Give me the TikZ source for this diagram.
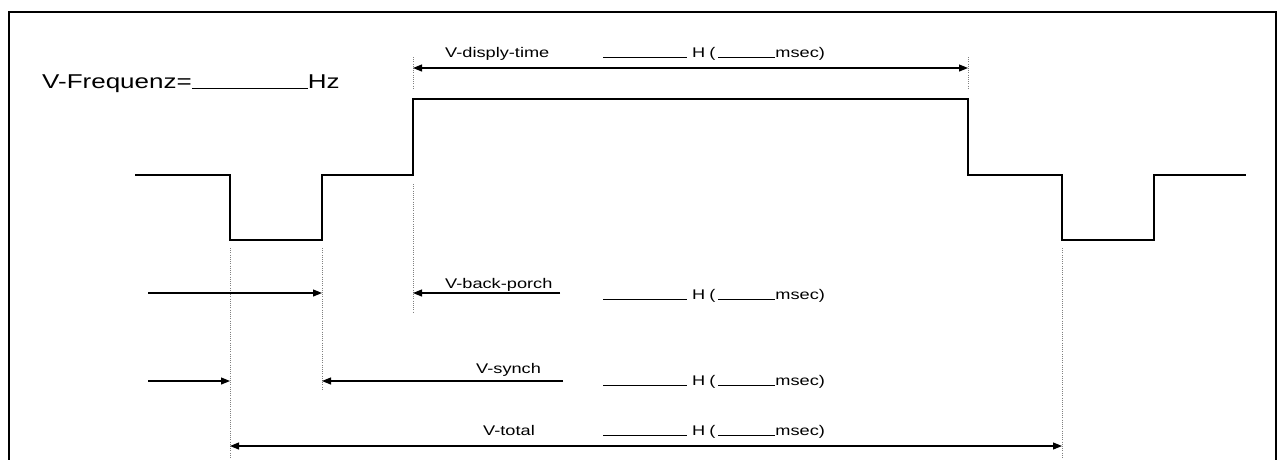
\documentclass[tikz,border=0pt]{standalone}
\usepackage{fontspec}
\setmainfont{Liberation Sans}
\newfontfamily\widef[FakeStretch=1.3]{Liberation Sans}
\usetikzlibrary{arrows.meta}
\newcommand{\blankline}[1]{\rule[-1pt]{#1}{0.9pt}}
\newcommand{\hfield}{\blankline{84pt}\hspace{5pt}H\hspace{4pt}(\hspace{3pt}\blankline{57pt}msec)}
\begin{document}
\begin{tikzpicture}[x=1pt,y=-1pt,
  sig/.style={line width=1.3pt},
  guide/.style={gray,line width=0.7pt,dash pattern=on 1pt off 1.2pt},
  dimarrow/.style={line width=1.1pt,-{Triangle[length=9pt,width=7pt]}},
  dimboth/.style={line width=1.1pt,{Triangle[length=9pt,width=7pt]}-{Triangle[length=9pt,width=7pt]}},
  lbl/.style={font=\widef\fontsize{14}{16}\selectfont,inner sep=0pt,anchor=base west},
  big/.style={font=\widef\fontsize{20}{24}\selectfont,inner sep=0pt,anchor=base west}]
\useasboundingbox (0,0) rectangle (1279,459);
\fill[white] (0,0) rectangle (1279,459);
% frame
\draw[line width=1.4pt] (1276,470) -- (1276,12) -- (9,12) -- (9,470);
% title
\node[big] (freq) at (42,88) {V-Frequenz=\rule[-1pt]{116pt}{1pt}Hz};
% signal
\coordinate (s0) at (135,175);
\coordinate (s1) at (230,175);
\coordinate (s2) at (230,240);
\coordinate (s3) at (322,240);
\coordinate (s4) at (322,175);
\coordinate (s5) at (413,175);
\coordinate (s6) at (413,99);
\coordinate (s7) at (968,99);
\coordinate (s8) at (968,175);
\coordinate (s9) at (1062,175);
\coordinate (s10) at (1062,240);
\coordinate (s11) at (1154,240);
\coordinate (s12) at (1154,175);
\coordinate (s13) at (1246,175);
\draw[sig] (s0) -- (s1) -- (s2) -- (s3) -- (s4) -- (s5) -- (s6) -- (s7) -- (s8) -- (s9) -- (s10) -- (s11) -- (s12) -- (s13);
% guides
\coordinate (g1a) at (413,57);  \coordinate (g1b) at (413,89);
\coordinate (g2a) at (968,57);  \coordinate (g2b) at (968,89);
\coordinate (g3a) at (413,184); \coordinate (g3b) at (413,313);
\coordinate (g4a) at (230,248); \coordinate (g4b) at (230,459);
\coordinate (g5a) at (322,248); \coordinate (g5b) at (322,390);
\coordinate (g6a) at (1062,248); \coordinate (g6b) at (1062,459);
\foreach \g in {1,...,6} \draw[guide] (g\g a) -- (g\g b);
% row 1: display time
\coordinate (d1) at (413,68); \coordinate (d2) at (968,68);
\draw[dimboth] (d1) -- (d2);
\node[lbl] (ldisp) at (445,57) {V-disply-time};
\node[lbl] (hdisp) at (603,57) {\hfield};
% row 2: back porch
\coordinate (b0) at (148,293); \coordinate (b1) at (322,293);
\coordinate (b2) at (560,293); \coordinate (b3) at (413,293);
\draw[dimarrow] (b0) -- (b1);
\draw[dimarrow] (b2) -- (b3);
\node[lbl] (lback) at (445,288) {V-back-porch};
\node[lbl] (hback) at (603,299) {\hfield};
% row 3: synch
\coordinate (c0) at (148,381); \coordinate (c1) at (230,381);
\coordinate (c2) at (563,381); \coordinate (c3) at (322,381);
\draw[dimarrow] (c0) -- (c1);
\draw[dimarrow] (c2) -- (c3);
\node[lbl] (lsynch) at (476,373) {V-synch};
\node[lbl] (hsynch) at (603,385) {\hfield};
% row 4: total
\coordinate (t1) at (230,446); \coordinate (t2) at (1062,446);
\draw[dimboth] (t1) -- (t2);
\node[lbl] (ltotal) at (483,435) {V-total};
\node[lbl] (htotal) at (603,435) {\hfield};
\end{tikzpicture}
\end{document}
